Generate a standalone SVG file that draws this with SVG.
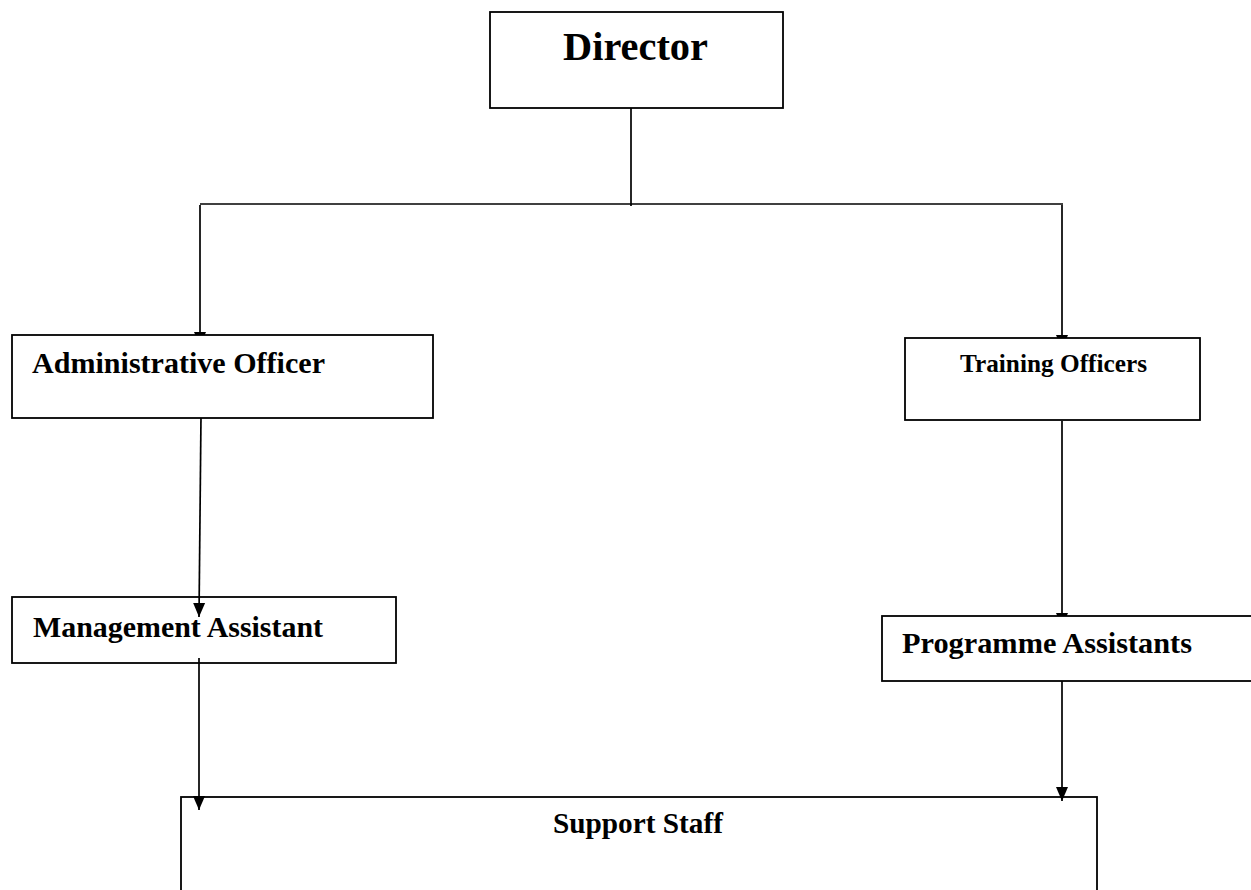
<svg xmlns="http://www.w3.org/2000/svg" width="1251" height="890" viewBox="0 0 1251 890">
  <style>
    .box { stroke: #000; stroke-width: 1.8; }
    .solid { fill: #fff; }
    .open { fill: none; }
    .lbl { font-family: "Liberation Serif", "Times New Roman", serif; font-weight: bold; fill: #000; }
    .wire { fill: none; stroke: #000; stroke-width: 1.7; }
  </style>
  <defs>
    <marker id="head" markerUnits="userSpaceOnUse" markerWidth="14" markerHeight="13" refX="14" refY="6.5" orient="auto">
      <path d="M0,0.5 L14,6.5 L0,12.5 z" fill="#000"/>
    </marker>
  </defs>
  <rect width="1251" height="890" fill="#fff"/>

  <!-- connectors -->
  <g id="connectors">
    <line class="wire" x1="631" y1="104" x2="631" y2="206"/>
    <line class="wire" x1="200" y1="204" x2="1063" y2="204"/>
    <line class="wire" x1="200" y1="205" x2="200" y2="346" marker-end="url(#head)"/>
    <line class="wire" x1="1062" y1="205" x2="1062" y2="349" marker-end="url(#head)"/>
    <line class="wire" x1="201" y1="416" x2="199" y2="617" marker-end="url(#head)"/>
    <line class="wire" x1="1062" y1="421" x2="1062" y2="627" marker-end="url(#head)"/>
    <line class="wire" x1="199" y1="658" x2="199" y2="810" marker-end="url(#head)"/>
    <line class="wire" x1="1062" y1="677" x2="1062" y2="801" marker-end="url(#head)"/>
  </g>

  <!-- nodes -->
  <g id="director">
    <rect class="box solid" x="490" y="12" width="293" height="96"/>
    <text class="lbl" x="563" y="60" font-size="40" textLength="145" lengthAdjust="spacingAndGlyphs">Director</text>
  </g>
  <g id="administrative-officer">
    <rect class="box solid" x="12" y="335" width="421" height="83"/>
    <text class="lbl" x="32" y="373" font-size="29" textLength="293" lengthAdjust="spacingAndGlyphs">Administrative Officer</text>
  </g>
  <g id="training-officers">
    <rect class="box solid" x="905" y="338" width="295" height="82"/>
    <text class="lbl" x="960" y="372" font-size="25" textLength="187" lengthAdjust="spacingAndGlyphs">Training Officers</text>
  </g>
  <g id="management-assistant">
    <rect class="box open" x="12" y="597" width="384" height="66"/>
    <text class="lbl" x="33" y="637" font-size="29" textLength="290" lengthAdjust="spacingAndGlyphs">Management Assistant</text>
  </g>
  <g id="programme-assistants">
    <rect class="box solid" x="882" y="616" width="380" height="65"/>
    <text class="lbl" x="902" y="653" font-size="29" textLength="290" lengthAdjust="spacingAndGlyphs">Programme Assistants</text>
  </g>
  <g id="support-staff">
    <rect class="box open" x="181" y="797" width="916" height="120"/>
    <text class="lbl" x="553" y="833" font-size="29" textLength="170" lengthAdjust="spacingAndGlyphs">Support Staff</text>
  </g>
</svg>
